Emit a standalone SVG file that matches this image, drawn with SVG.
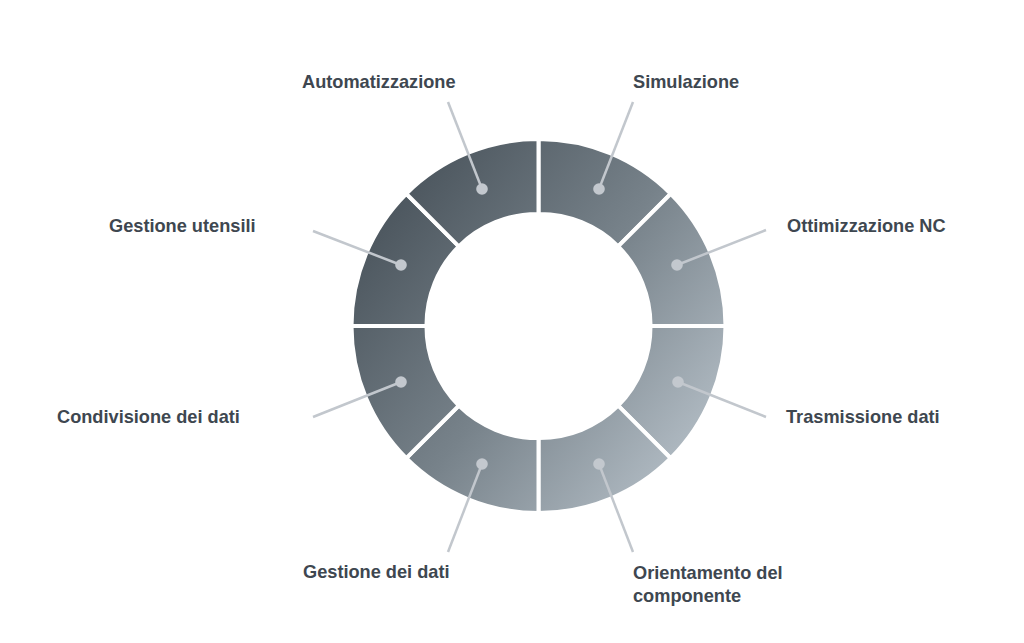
<svg xmlns="http://www.w3.org/2000/svg" width="1024" height="643" viewBox="0 0 1024 643">
<style>
  .seg { fill: url(#ringGrad); stroke: #ffffff; stroke-width: 4; stroke-linejoin: miter; }
  .dot { fill: #c3c8ce; }
  .lead { stroke: #c2c7cd; stroke-width: 2.5; fill: none; stroke-linecap: butt; }
  .lbl { font-family: "Liberation Sans", Arial, sans-serif; font-weight: bold; font-size: 18.2px; fill: #3e4750; }
</style>
<defs>
  <linearGradient id="ringGrad" gradientUnits="userSpaceOnUse" x1="380" y1="200" x2="710" y2="460">
    <stop offset="0" stop-color="#4a545c"/>
    <stop offset="0.5" stop-color="#77828a"/>
    <stop offset="1" stop-color="#b6c0c8"/>
  </linearGradient>
</defs>
<rect width="1024" height="643" fill="#ffffff"/>

<g id="ring">
  <g id="seg-simulazione"><path class="seg" d="M538.5,139 A187,187 0 0 1 670.73,193.77 L618.2,246.3 A112,112 0 0 0 538.5,214 Z"/></g>
  <g id="seg-ottimizzazione"><path class="seg" d="M670.73,193.77 A187,187 0 0 1 725.5,326 L650.5,326 A112,112 0 0 0 618.2,246.3 Z"/></g>
  <g id="seg-trasmissione"><path class="seg" d="M725.5,326 A187,187 0 0 1 670.73,458.23 L618.2,405.7 A112,112 0 0 0 650.5,326 Z"/></g>
  <g id="seg-orientamento"><path class="seg" d="M670.73,458.23 A187,187 0 0 1 538.5,513 L538.5,438 A112,112 0 0 0 618.2,405.7 Z"/></g>
  <g id="seg-gestione-dati"><path class="seg" d="M538.5,513 A187,187 0 0 1 406.27,458.23 L458.8,405.7 A112,112 0 0 0 538.5,438 Z"/></g>
  <g id="seg-condivisione"><path class="seg" d="M406.27,458.23 A187,187 0 0 1 351.5,326 L426.5,326 A112,112 0 0 0 458.8,405.7 Z"/></g>
  <g id="seg-gestione-utensili"><path class="seg" d="M351.5,326 A187,187 0 0 1 406.27,193.77 L458.8,246.3 A112,112 0 0 0 426.5,326 Z"/></g>
  <g id="seg-automatizzazione"><path class="seg" d="M406.27,193.77 A187,187 0 0 1 538.5,139 L538.5,214 A112,112 0 0 0 458.8,246.3 Z"/></g>
</g>

<g id="connectors">
  <line class="lead" x1="448" y1="102" x2="482" y2="189"/>
  <line class="lead" x1="633" y1="102" x2="599" y2="189"/>
  <line class="lead" x1="313" y1="231" x2="401" y2="265"/>
  <line class="lead" x1="766" y1="230" x2="677" y2="265"/>
  <line class="lead" x1="313" y1="417" x2="401" y2="382"/>
  <line class="lead" x1="766" y1="417" x2="678" y2="382"/>
  <line class="lead" x1="448" y1="552" x2="482" y2="464"/>
  <line class="lead" x1="633" y1="552" x2="599" y2="464"/>
</g>

<g id="node-automatizzazione">
  <circle class="dot" cx="482" cy="189" r="5.8"/>
  <text class="lbl" x="302" y="88">Automatizzazione</text>
</g>
<g id="node-simulazione">
  <circle class="dot" cx="599" cy="189" r="5.8"/>
  <text class="lbl" x="633" y="88">Simulazione</text>
</g>
<g id="node-gestione-utensili">
  <circle class="dot" cx="401" cy="265" r="5.8"/>
  <text class="lbl" x="109" y="232">Gestione utensili</text>
</g>
<g id="node-ottimizzazione">
  <circle class="dot" cx="677" cy="265" r="5.8"/>
  <text class="lbl" x="787" y="232">Ottimizzazione NC</text>
</g>
<g id="node-condivisione">
  <circle class="dot" cx="401" cy="382" r="5.8"/>
  <text class="lbl" x="57" y="423">Condivisione dei dati</text>
</g>
<g id="node-trasmissione">
  <circle class="dot" cx="678" cy="382" r="5.8"/>
  <text class="lbl" x="786" y="423">Trasmissione dati</text>
</g>
<g id="node-gestione-dati">
  <circle class="dot" cx="482" cy="464" r="5.8"/>
  <text class="lbl" x="303" y="578">Gestione dei dati</text>
</g>
<g id="node-orientamento">
  <circle class="dot" cx="599" cy="464" r="5.8"/>
  <text class="lbl" x="633" y="579">Orientamento del</text>
  <text class="lbl" x="633" y="602">componente</text>
</g>
</svg>
